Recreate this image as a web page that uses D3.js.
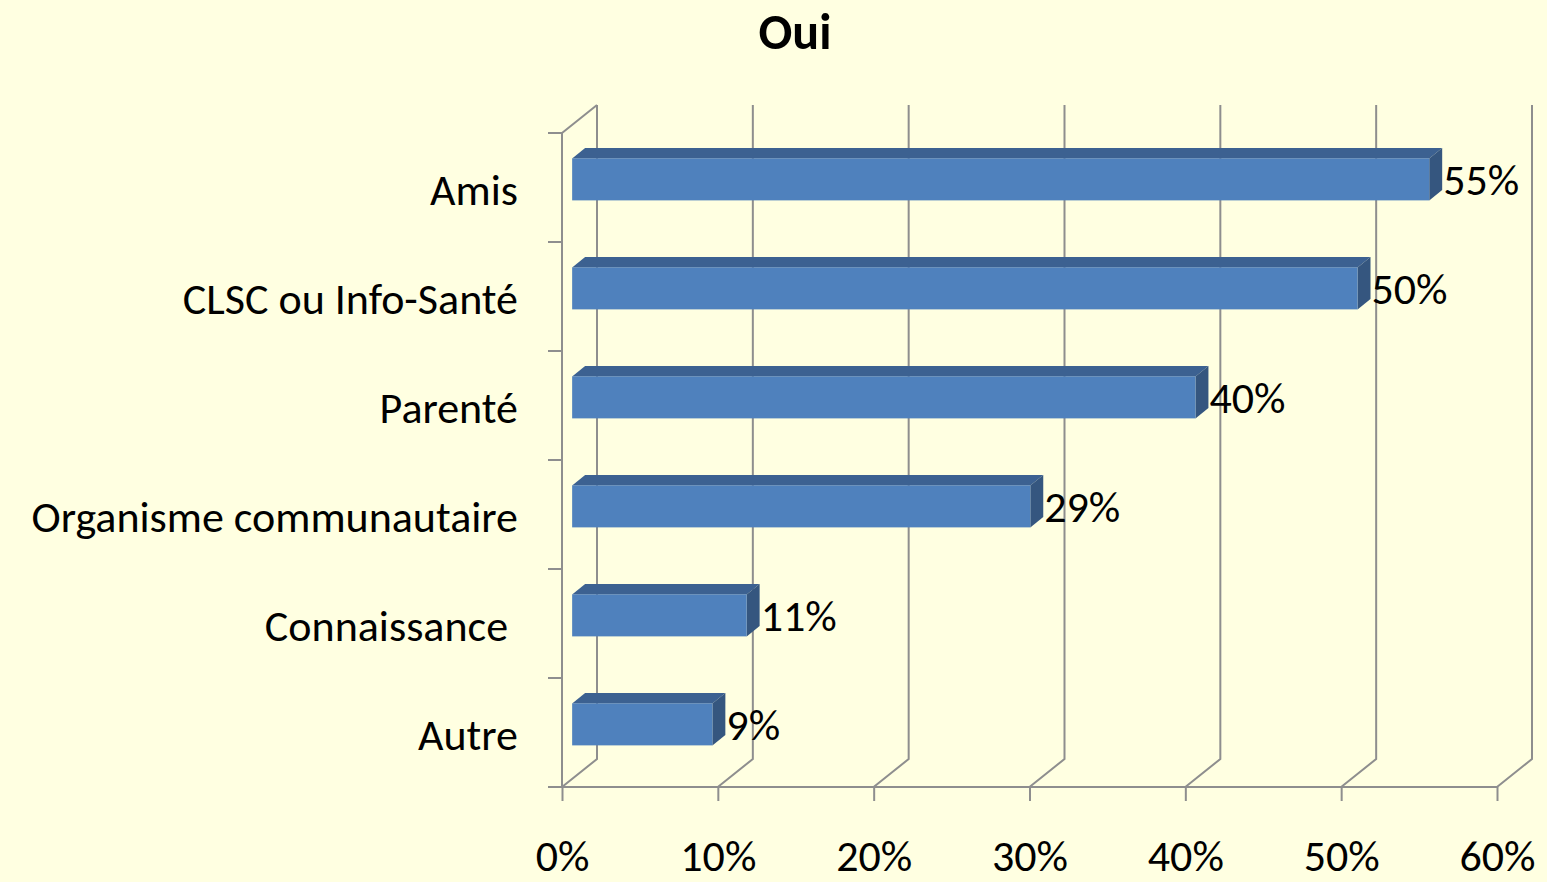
<!DOCTYPE html>
<html>
<head>
<meta charset="utf-8">
<script src="https://cdn.jsdelivr.net/npm/d3@7"></script>
<style>
  body { margin: 0; background: #ffffe1; }
  svg { display: block; }
  text { font-family: Calibri, Carlito, Lato, sans-serif; fill: #000; }
</style>
</head>
<body>
<svg width="1547" height="882"></svg>
<script>
// data
var categories = ['Amis', 'CLSC ou Info-Santé', 'Parenté', 'Organisme communautaire', 'Connaissance ', 'Autre'];
var values = [0.55, 0.504, 0.40, 0.294, 0.112, 0.09];
var xTicks = [0, 0.1, 0.2, 0.3, 0.4, 0.5, 0.6];
var title = 'Oui';

var svg = d3.select('svg');

// plot box (front plane) and 3d depth
var plotLeft = 562, plotRight = 1497, plotTop = 133, plotBottom = 787;
var depth = {dx: 35, dy: -28};
var barFront = 0.29, barBack = 0.66; // fractions of the depth
var gridColor = '#8e8e8e';
var fontSize = '44px';

var x = d3.scaleLinear().domain([0, 0.6]).range([plotLeft, plotRight]);
var y = d3.scaleBand().domain(categories).range([plotTop, plotBottom]);

var data = categories.map(function(c, i) {
  return {cat: c, value: values[i]};
});

// title
svg.append('text')
  .attr('x', 795)
  .attr('y', 31)
  .attr('dominant-baseline', 'central')
  .attr('text-anchor', 'middle')
  .style('font-size', '50px')
  .style('font-weight', 'bold')
  .text(title);

var g = svg.append('g');

// back wall gridlines + floor diagonals
xTicks.forEach(function(t) {
  var px = x(t);
  g.append('polyline')
    .attr('points', [
      [px, plotBottom],
      [px + depth.dx, plotBottom + depth.dy],
      [px + depth.dx, plotTop + depth.dy]
    ].join(' '))
    .attr('fill', 'none')
    .attr('stroke', gridColor)
    .attr('stroke-width', 2);
});

// left side wall: top diagonal
g.append('line')
  .attr('x1', plotLeft).attr('y1', plotTop)
  .attr('x2', plotLeft + depth.dx).attr('y2', plotTop + depth.dy)
  .attr('stroke', gridColor).attr('stroke-width', 2);

// left axis line
g.append('line')
  .attr('x1', plotLeft).attr('y1', plotTop)
  .attr('x2', plotLeft).attr('y2', plotBottom)
  .attr('stroke', gridColor).attr('stroke-width', 2);

// category boundary ticks
var bounds = categories.map(function(c) { return y(c); }).concat([y.range()[1]]);
g.selectAll('.ctick')
  .data(bounds)
  .enter()
  .append('line')
  .attr('class', 'ctick')
  .attr('x1', plotLeft - 14).attr('x2', plotLeft)
  .attr('y1', function(d) { return d; })
  .attr('y2', function(d) { return d; })
  .attr('stroke', gridColor).attr('stroke-width', 2);

// x axis along the front floor edge
var xAxis = g.append('g')
  .attr('transform', 'translate(0,' + plotBottom + ')')
  .call(d3.axisBottom(x)
    .tickValues(xTicks)
    .tickSize(14)
    .tickSizeOuter(0)
    .tickPadding(39)
    .tickFormat(d3.format('.0%')));
xAxis.select('.domain')
  .attr('d', 'M' + (plotLeft - 14) + ',0H' + plotRight)
  .attr('stroke', gridColor).attr('stroke-width', 2);
xAxis.selectAll('.tick line').attr('stroke', gridColor).attr('stroke-width', 2);
xAxis.selectAll('.tick text')
  .attr('fill', '#000')
  .style('font-size', fontSize)
  .style('font-family', 'Calibri, Carlito, Lato, sans-serif');

// category labels
var yAxis = g.append('g')
  .attr('transform', 'translate(' + plotLeft + ',0)')
  .call(d3.axisLeft(y).tickSize(0).tickPadding(44));
yAxis.select('.domain').remove();
yAxis.selectAll('.tick text')
  .attr('fill', '#000')
  .attr('dy', '0.4em')
  .style('white-space', 'pre')
  .style('font-size', fontSize)
  .style('font-family', 'Calibri, Carlito, Lato, sans-serif');

// 3d bars
var barH = 42;
var fx = depth.dx * barFront, fy = depth.dy * barFront;
var bx = depth.dx * barBack, by = depth.dy * barBack;

var bars = g.selectAll('.bar')
  .data(data)
  .enter()
  .append('g')
  .attr('class', 'bar');

function frontTop(d) { return y(d.cat) + y.bandwidth() / 2 + fy - barH / 2; }

// top face
bars.append('polygon')
  .attr('points', function(d) {
    var x0 = x(0) + fx, x1 = x(d.value) + fx, yt = frontTop(d);
    return [[x0, yt], [x1, yt], [x1 + bx - fx, yt + by - fy], [x0 + bx - fx, yt + by - fy]].join(' ');
  })
  .attr('fill', '#3c6191');

// side face
bars.append('polygon')
  .attr('points', function(d) {
    var x1 = x(d.value) + fx, yt = frontTop(d);
    return [[x1, yt], [x1 + bx - fx, yt + by - fy], [x1 + bx - fx, yt + by - fy + barH], [x1, yt + barH]].join(' ');
  })
  .attr('fill', '#35567f');

// front face
bars.append('rect')
  .attr('x', x(0) + fx)
  .attr('y', frontTop)
  .attr('width', function(d) { return x(d.value) - x(0); })
  .attr('height', barH)
  .attr('fill', '#4f81bd');

// value labels
bars.append('text')
  .attr('x', function(d) { return x(d.value) + bx + 1; })
  .attr('y', function(d) { return y(d.cat) + y.bandwidth() / 2 + fy + 1; })
  .attr('dominant-baseline', 'central')
  .style('font-size', fontSize)
  .text(function(d) { return d3.format('.0%')(d.value); });
</script>
</body>
</html>
